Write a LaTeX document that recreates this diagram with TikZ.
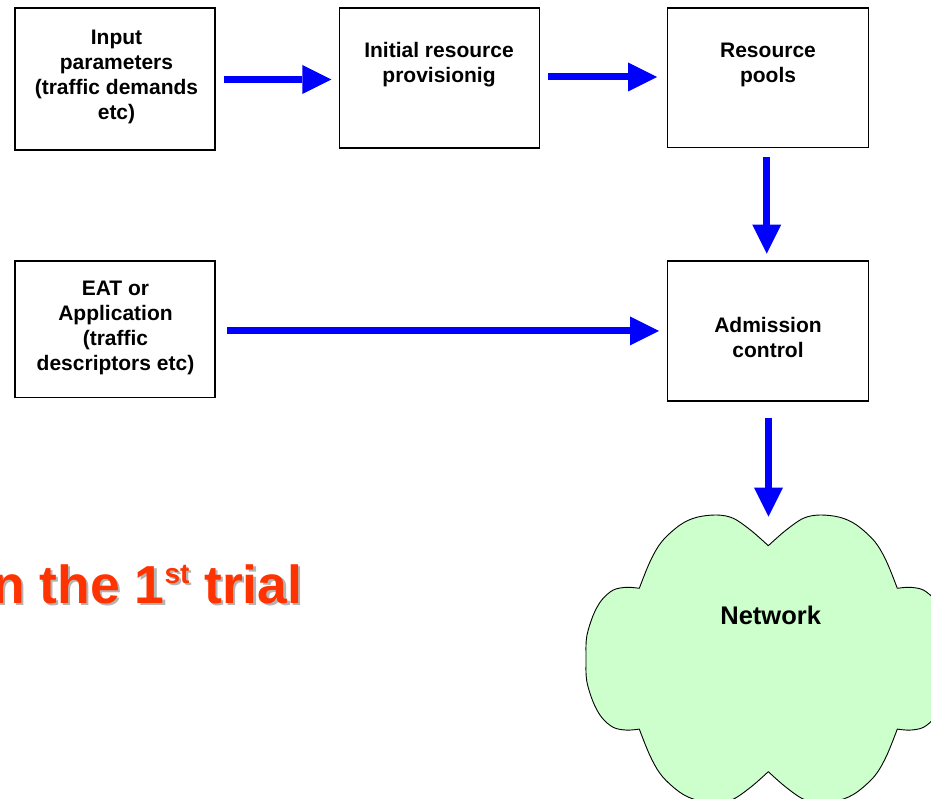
\documentclass[tikz,border=0pt]{standalone}
\usepackage{fontspec}
\setmainfont{Liberation Sans}
\usetikzlibrary{arrows.meta,calc}
\definecolor{flowblue}{RGB}{0,0,255}
\definecolor{cloudgreen}{RGB}{204,255,204}
\definecolor{titlered}{RGB}{255,51,0}
\definecolor{shadowgray}{RGB}{180,180,180}

\begin{document}
\begin{tikzpicture}[x=1pt,y=-1pt,
  box/.style={draw=black, line width=1.3pt, fill=white, inner sep=0pt},
  boxtext/.style={anchor=north, align=center, inner sep=0pt,
    font=\fontsize{21}{25}\selectfont\bfseries},
  flow/.style={draw=flowblue, line width=7pt,
    -{Triangle[length=29pt,width=29pt,line width=0pt]}, flowblue},
  redtitle/.style={anchor=base west, inner sep=0pt,
    font=\fontsize{53.5}{60}\selectfont\bfseries},
  lobe/.style={smooth, tension=0.55}
]
\useasboundingbox (0,0) rectangle (931,799);

% boxes
\node[box, minimum width=200pt, minimum height=142pt] (inp)   at (115,79)     {};
\node[box, minimum width=200pt, minimum height=140pt] (init)  at (439.3,78)   {};
\node[box, minimum width=200.6pt, minimum height=139.7pt] (pools) at (768,77.85) {};
\node[box, minimum width=200pt, minimum height=136.7pt] (eat) at (115,329.35) {};
\node[box, minimum width=200.6pt, minimum height=140pt] (adm) at (768,331)    {};

% box captions
\node[boxtext] (inptxt)   at (116.5,26.5) {\strut Input\\parameters\\(traffic demands\\etc)};
\node[boxtext] (inittxt)  at (439,40.2)   {\strut Initial resource\\provisionig};
\node[boxtext] (poolstxt) at (768,40.2)   {\strut Resource\\pools};
\node[boxtext] (eattxt)   at (115.5,277.5) {\strut EAT or\\Application\\(traffic\\descriptors etc)};
\node[boxtext] (admtxt)   at (768,314.8)  {\strut Admission\\control};

% network cloud
\begin{scope}[shift={(768.3,658.7)}]
\filldraw[draw=black, line width=0.9pt, fill=cloudgreen, line join=round]
  plot[lobe] coordinates {(-129,-70.4) (-118.3,-97) (-106.6,-117) (-88.3,-133.7)
    (-71.6,-141.4) (-51.6,-143.7) (-35,-140.4) (-17,-128) (0,-113)}
  -- plot[lobe] coordinates {(0,-113) (17,-128) (35,-140.4) (51.6,-143.7)
    (71.6,-141.4) (88.3,-133.7) (106.6,-117) (118.3,-97) (129,-70.4)}
  -- plot[lobe] coordinates {(129,-70.4) (141.6,-71.4) (155,-68.7) (166.6,-58.7)
    (175,-43.7) (181.6,-22) (182.3,0) (181.6,22) (175,43.7) (166.6,58.7)
    (155,68.7) (141.6,71.4) (129,70.4)}
  -- plot[lobe] coordinates {(129,70.4) (118.3,97) (106.6,117) (88.3,133.7)
    (71.6,141.4) (51.6,143.7) (35,140.4) (17,128) (0,113)}
  -- plot[lobe] coordinates {(0,113) (-17,128) (-35,140.4) (-51.6,143.7)
    (-71.6,141.4) (-88.3,133.7) (-106.6,117) (-118.3,97) (-129,70.4)}
  -- plot[lobe] coordinates {(-129,70.4) (-141.6,71.4) (-155,68.7) (-166.6,58.7)
    (-175,43.7) (-181.6,22) (-182.3,0) (-181.6,-22) (-175,-43.7) (-166.6,-58.7)
    (-155,-68.7) (-141.6,-71.4) (-129,-70.4)}
  -- cycle;
\coordinate (cloudtop) at (0.2,-142);
\end{scope}
\node[anchor=base, inner sep=0pt, font=\fontsize{25.5}{30}\selectfont\bfseries]
  (net) at (770.7,624) {Network};

% flow arrows
\draw[flow] ($(inp.east)+(8,0.5)$) -- ($(inp.east -| init.west)+(-7.3,0.5)$);
\draw[flow] ($(init.east)+(8.4,-1)$) -- ($(init.east -| pools.west)+(-10,-1)$);
\draw[flow] ($(pools.south)+(-1.3,9)$) -- ($(adm.north)+(-1.3,-6.7)$);
\draw[flow] ($(eat.east)+(11.7,1.6)$) -- ($(eat.east -| adm.west)+(-8,1.6)$);
\draw[flow] ($(adm.south)+(0.5,16.7)$) -- (cloudtop);

% heading with drop shadow
\node[redtitle, text=shadowgray] (trialshadow) at (-5.8,605.5)
  {n the 1\raisebox{20pt}{\fontsize{28}{30}\selectfont st} trial};
\node[redtitle, text=titlered] (trial) at (-8,603.3)
  {n the 1\raisebox{20pt}{\fontsize{28}{30}\selectfont st} trial};
\end{tikzpicture}
\end{document}
